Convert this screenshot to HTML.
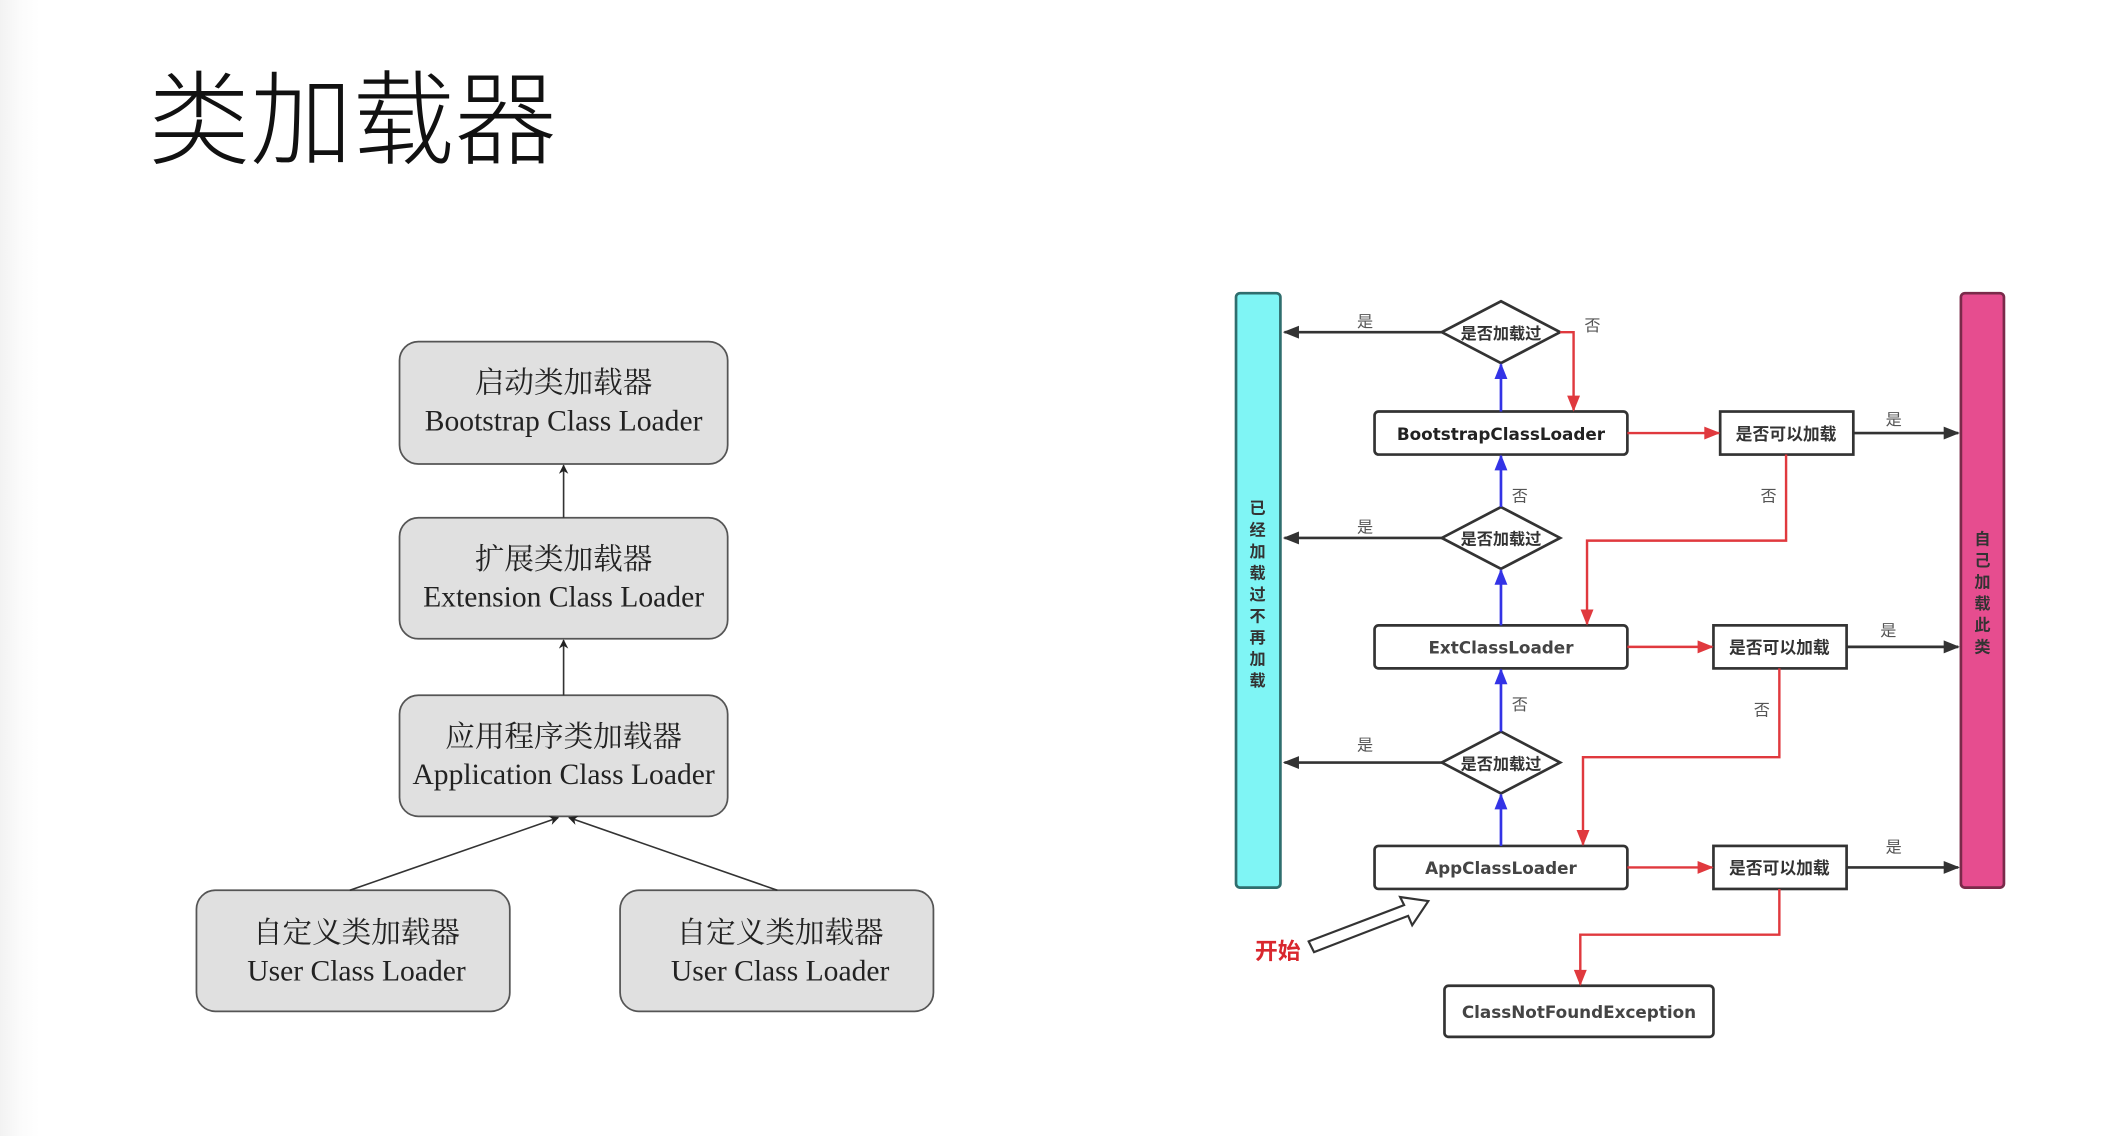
<!DOCTYPE html>
<html><head><meta charset="utf-8">
<style>
html,body{margin:0;padding:0;background:#fff;}
body{width:2108px;height:1136px;overflow:hidden;background:linear-gradient(to right,#f2f2f2 0,#fbfbfb 20px,#fff 40px);}
svg{display:block;}
</style></head><body>
<svg width="2108" height="1136" viewBox="0 0 1567.3 844.7" xmlns="http://www.w3.org/2000/svg">
<defs>
<marker id="ak" viewBox="0 0 10 10" refX="9" refY="5" markerWidth="7" markerHeight="7" orient="auto" markerUnits="userSpaceOnUse"><path d="M0,0 L10,5 L0,10 L3,5 z" fill="#222"/></marker>
<marker id="akb" viewBox="0 0 10 10" refX="9" refY="5" markerWidth="14" markerHeight="12" orient="auto" markerUnits="userSpaceOnUse"><path d="M0,1 L10,5 L0,9 z" fill="#333"/></marker>
<marker id="ar" viewBox="0 0 10 10" refX="9" refY="5" markerWidth="14" markerHeight="12" orient="auto" markerUnits="userSpaceOnUse"><path d="M0,1 L10,5 L0,9 z" fill="#e0393e"/></marker>
<marker id="ab" viewBox="0 0 10 10" refX="9" refY="5" markerWidth="14" markerHeight="12" orient="auto" markerUnits="userSpaceOnUse"><path d="M0,1 L10,5 L0,9 z" fill="#3333e6"/></marker>
</defs>

<text x="110" y="116" font-family="Noto Sans CJK SC, sans-serif" font-size="76" font-weight="300" fill="#111">类加载器</text>

<!-- left diagram -->
<g font-family="Liberation Serif, Noto Serif CJK SC, serif" font-size="22" fill="#222" text-anchor="middle">
<rect x="297" y="254" width="244" height="91" rx="14" fill="#e0e0e0" stroke="#555" stroke-width="1.3"/>
<text x="419" y="292">启动类加载器</text><text x="419" y="320">Bootstrap Class Loader</text>
<rect x="297" y="385" width="244" height="90" rx="14" fill="#e0e0e0" stroke="#555" stroke-width="1.3"/>
<text x="419" y="423">扩展类加载器</text><text x="419" y="451">Extension Class Loader</text>
<rect x="297" y="517" width="244" height="90" rx="14" fill="#e0e0e0" stroke="#555" stroke-width="1.3"/>
<text x="419" y="555">应用程序类加载器</text><text x="419" y="583">Application Class Loader</text>
<rect x="146" y="662" width="233" height="90" rx="14" fill="#e0e0e0" stroke="#555" stroke-width="1.3"/>
<text x="265" y="701">自定义类加载器</text><text x="265" y="729">User Class Loader</text>
<rect x="461" y="662" width="233" height="90" rx="14" fill="#e0e0e0" stroke="#555" stroke-width="1.3"/>
<text x="580" y="701">自定义类加载器</text><text x="580" y="729">User Class Loader</text>
</g>
<g stroke="#333" stroke-width="1.2" fill="none">
<line x1="419" y1="385" x2="419" y2="346" marker-end="url(#ak)"/>
<line x1="419" y1="517" x2="419" y2="476" marker-end="url(#ak)"/>
<line x1="260" y1="662" x2="415" y2="608" marker-end="url(#ak)"/>
<line x1="578" y1="662" x2="423" y2="608" marker-end="url(#ak)"/>
</g>

<!-- right diagram -->
<rect x="919" y="218" width="33" height="442" rx="3" fill="#7ff5f5" stroke="#2f6e6e" stroke-width="2"/>
<rect x="1458" y="218" width="32" height="442" rx="3" fill="#e64d8f" stroke="#7a2a4a" stroke-width="2"/>
<g font-family="Noto Sans CJK SC, sans-serif" font-weight="bold" font-size="12" fill="#333" text-anchor="middle">
<text x="935" y="382">已</text><text x="935" y="398">经</text><text x="935" y="414">加</text><text x="935" y="430">载</text><text x="935" y="446">过</text><text x="935" y="462">不</text><text x="935" y="478">再</text><text x="935" y="494">加</text><text x="935" y="510">载</text>
<text x="1474" y="405">自</text><text x="1474" y="421">己</text><text x="1474" y="437">加</text><text x="1474" y="453">载</text><text x="1474" y="469">此</text><text x="1474" y="485">类</text>
</g>

<g fill="#fff" stroke="#333" stroke-width="2">
<polygon points="1116,224 1160,247 1116,270 1072,247"/>
<polygon points="1116,377 1160,400 1116,423 1072,400"/>
<polygon points="1116,544 1160,567 1116,590 1072,567"/>
</g>
<g font-family="Noto Sans CJK SC, sans-serif" font-weight="bold" font-size="12" fill="#333" text-anchor="middle">
<text x="1116" y="252">是否加载过</text><text x="1116" y="405">是否加载过</text><text x="1116" y="572">是否加载过</text>
</g>

<g fill="#fff" stroke="#333" stroke-width="2">
<rect x="1022" y="306" width="188" height="32" rx="3"/>
<rect x="1022" y="465" width="188" height="32" rx="3"/>
<rect x="1022" y="629" width="188" height="32" rx="3"/>
<rect x="1279" y="306" width="99" height="32"/>
<rect x="1274" y="465" width="99" height="32"/>
<rect x="1274" y="629" width="99" height="32"/>
<rect x="1074" y="733" width="200" height="38" rx="3"/>
</g>
<g font-family="DejaVu Sans, Liberation Sans, sans-serif" font-weight="bold" font-size="12.5" fill="#222" text-anchor="middle">
<text x="1116" y="327">BootstrapClassLoader</text>
<text x="1116" y="486" fill="#444">ExtClassLoader</text>
<text x="1116" y="650" fill="#444">AppClassLoader</text>
<text x="1174" y="757" fill="#444">ClassNotFoundException</text>
</g>
<g font-family="Noto Sans CJK SC, sans-serif" font-weight="bold" font-size="12.5" fill="#333" text-anchor="middle">
<text x="1328" y="327">是否可以加载</text><text x="1323" y="486">是否可以加载</text><text x="1323" y="650">是否可以加载</text>
</g>

<g stroke="#333" stroke-width="2" fill="none">
<line x1="1072" y1="247" x2="955" y2="247" marker-end="url(#akb)"/>
<line x1="1072" y1="400" x2="955" y2="400" marker-end="url(#akb)"/>
<line x1="1072" y1="567" x2="955" y2="567" marker-end="url(#akb)"/>
<line x1="1378" y1="322" x2="1456" y2="322" marker-end="url(#akb)"/>
<line x1="1373" y1="481" x2="1456" y2="481" marker-end="url(#akb)"/>
<line x1="1373" y1="645" x2="1456" y2="645" marker-end="url(#akb)"/>
</g>
<g stroke="#3333e6" stroke-width="2" fill="none">
<line x1="1116" y1="306" x2="1116" y2="271" marker-end="url(#ab)"/>
<line x1="1116" y1="377" x2="1116" y2="339" marker-end="url(#ab)"/>
<line x1="1116" y1="465" x2="1116" y2="424" marker-end="url(#ab)"/>
<line x1="1116" y1="544" x2="1116" y2="498" marker-end="url(#ab)"/>
<line x1="1116" y1="629" x2="1116" y2="591" marker-end="url(#ab)"/>
</g>
<g stroke="#e0393e" stroke-width="1.8" fill="none">
<polyline points="1160,247 1170,247 1170,305" marker-end="url(#ar)"/>
<line x1="1210" y1="322" x2="1278" y2="322" marker-end="url(#ar)"/>
<line x1="1210" y1="481" x2="1273" y2="481" marker-end="url(#ar)"/>
<line x1="1210" y1="645" x2="1273" y2="645" marker-end="url(#ar)"/>
<polyline points="1328,338 1328,402 1180,402 1180,464" marker-end="url(#ar)"/>
<polyline points="1323,497 1323,563 1177,563 1177,628" marker-end="url(#ar)"/>
<polyline points="1323,661 1323,695 1175,695 1175,732" marker-end="url(#ar)"/>
</g>

<g font-family="Noto Sans CJK SC, sans-serif" font-size="12" fill="#555" text-anchor="middle">
<text x="1015" y="243">是</text><text x="1015" y="396">是</text><text x="1015" y="558">是</text>
<text x="1184" y="246">否</text><text x="1130" y="373">否</text><text x="1130" y="528">否</text>
<text x="1315" y="373">否</text><text x="1310" y="532">否</text>
<text x="1408" y="316">是</text><text x="1404" y="473">是</text><text x="1408" y="634">是</text>
</g>

<polygon points="973,700 1044,673 1041,667 1062,670 1050,688 1047,681 977,708" fill="#fff" stroke="#333" stroke-width="1.6"/>
<text x="950" y="713" font-family="Noto Sans CJK SC, sans-serif" font-weight="bold" font-size="17" fill="#d9272e" text-anchor="middle">开始</text>
</svg>
</body></html>
